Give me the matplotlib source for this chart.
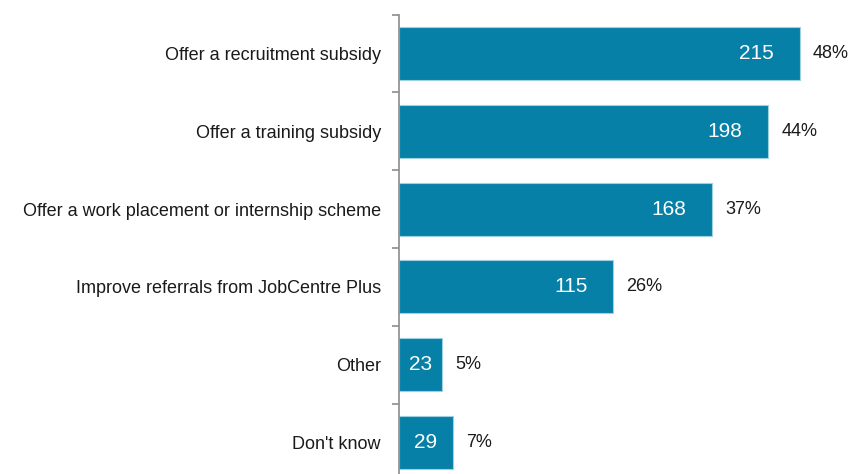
import matplotlib
matplotlib.use("Agg")
import matplotlib.pyplot as plt
from matplotlib.transforms import ScaledTranslation

plt.rcParams['font.family'] = ['Liberation Sans', 'DejaVu Sans']

categories = [
    "Offer a recruitment subsidy",
    "Offer a training subsidy",
    "Offer a work placement or internship scheme",
    "Improve referrals from JobCentre Plus",
    "Other",
    "Don't know",
]
counts = [215, 198, 168, 115, 23, 29]
percents = [48, 44, 37, 26, 5, 7]

W, H = 851, 474
fig = plt.figure(figsize=(W / 100, H / 100), dpi=100)

# axes area in pixels: left edge at the category axis, extends below the figure bottom
left_px, top_px, bottom_px = 399, 14.6, 481.4
xmax = 240
px_per_unit = (800 - 399) / 215
width_px = xmax * px_per_unit
ax = fig.add_axes([left_px / W, (H - bottom_px) / H, width_px / W, (bottom_px - top_px) / H])

bar_color = "#0780A7"
y = list(range(len(categories)))
ax.barh(y, counts, height=0.68, color=bar_color, edgecolor="#9fd0e2", linewidth=0.8, zorder=2)

ax.set_xlim(0, xmax)
ax.set_ylim(len(categories) - 0.5, -0.5)

for s in ["top", "right", "bottom"]:
    ax.spines[s].set_visible(False)
ax.spines["left"].set_color("#8c8c8c")
ax.spines["left"].set_linewidth(1.2)
ax.set_xticks([])

ax.set_yticks(y)
ax.set_yticklabels(categories, fontsize=13, color="#1a1a1a")
ax.tick_params(axis="y", which="major", length=0, pad=13)
ax.set_yticks([i - 0.5 for i in range(len(categories) + 1)], minor=True)
ax.tick_params(axis="y", which="minor", length=5, width=1.2, color="#8c8c8c", direction="out")

inside = ScaledTranslation(-26 / 100, 0, fig.dpi_scale_trans)
outside = ScaledTranslation(13 / 100, 0, fig.dpi_scale_trans)
for yi, c, p in zip(y, counts, percents):
    if c < 60:
        # short bars: centre the count in the bar
        ax.text(c / 2, yi, str(c), ha="center", va="center",
                color="white", fontsize=15, zorder=3)
    else:
        ax.text(c, yi, str(c), transform=ax.transData + inside, ha="right", va="center",
                color="white", fontsize=15, zorder=3)
    ax.text(c, yi, f"{p}%", transform=ax.transData + outside, ha="left", va="center",
            color="#1a1a1a", fontsize=13, zorder=3)

fig.savefig("out.png", dpi=100)
